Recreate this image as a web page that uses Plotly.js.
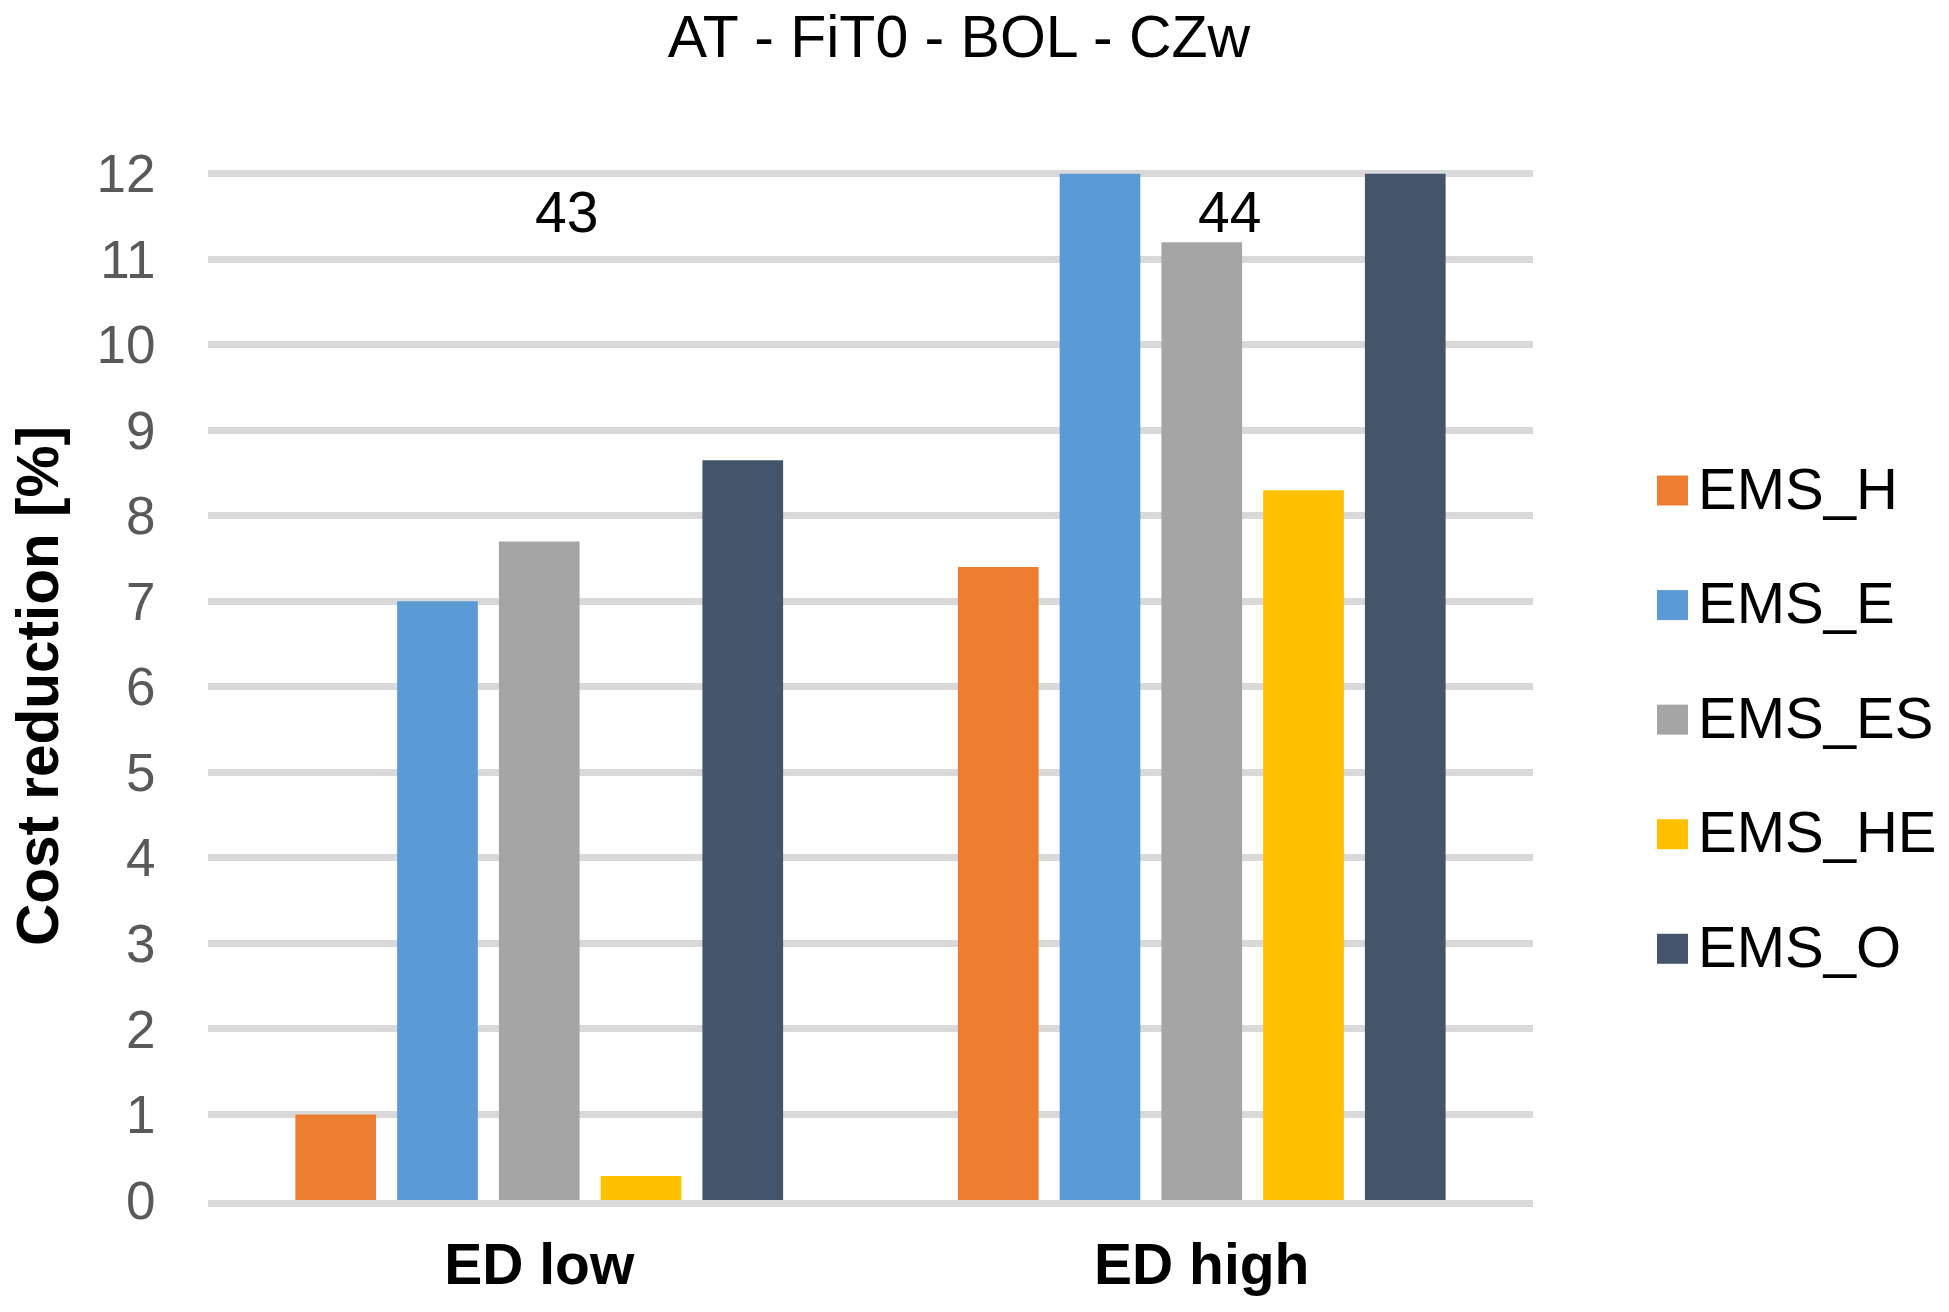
<!DOCTYPE html>
<html><head><meta charset="utf-8">
<script src="https://cdn.plot.ly/plotly-3.0.1.min.js"></script>
<style>html,body{margin:0;padding:0;background:#fff}</style>
</head><body>
<div id="chart" style="width:1949px;height:1312px"></div>
<script>
// ---- data ----
const categories = ['ED low', 'ED high'];
const seriesNames = ['EMS_H', 'EMS_E', 'EMS_ES', 'EMS_HE', 'EMS_O'];
const seriesColors = ['#ED7D31', '#5B9BD5', '#A5A5A5', '#FFC000', '#44546A'];
const emsH  = [1.0, 7.4];
const emsE  = [7.0, 12.0];
const emsES = [7.7, 11.2];
const emsHE = [0.28, 8.3];
const emsO  = [8.65, 12.0];
const caseLabels = ['43', '44'];
const caseLabelY = [11.55, 11.55];
const yTickValues = [0, 1, 2, 3, 4, 5, 6, 7, 8, 9, 10, 11, 12];
const chartTitle = 'AT - FiT0 - BOL - CZw';
const yTitle = 'Cost reduction [%]';

// ---- layout geometry (pixels) ----
const W = 1949, H = 1312;
const L = 208, R = 1533, T = 171.7, B = 1200;
const px = x => (x - L) / (R - L);
const py = y => (B - y) / (B - T);
const FONT = '"Liberation Sans", Arial, sans-serif';
const FS = 57;

const seriesValues = [emsH, emsE, emsES, emsHE, emsO];
const traces = seriesNames.map((name, i) => ({
  type: 'bar',
  name: name,
  x: categories,
  y: seriesValues[i],
  marker: { color: seriesColors[i], line: { width: 0 } },
  showlegend: false,
  hoverinfo: 'x+y+name'
}));

// custom legend (large square swatches like the original)
const shapes = [];
const annotations = [];
const legendTop = 490.3, legendStep = 114.6;
seriesNames.forEach((name, i) => {
  const cy = legendTop + i * legendStep;
  shapes.push({
    type: 'rect', xref: 'paper', yref: 'paper',
    x0: px(1657), x1: px(1688), y0: py(cy + 15), y1: py(cy - 15),
    fillcolor: seriesColors[i], line: { width: 0 }
  });
  annotations.push({
    xref: 'paper', yref: 'paper', x: px(1696), y: py(cy - 2.5),
    xanchor: 'left', yanchor: 'middle', showarrow: false,
    text: name, font: { family: FONT, size: 58, color: '#000' }
  });
});
categories.forEach((c, i) => {
  annotations.push({
    xref: 'x', yref: 'y', x: c, y: caseLabelY[i], xshift: 27.5,
    xanchor: 'center', yanchor: 'middle', showarrow: false,
    text: caseLabels[i], font: { family: FONT, size: FS, color: '#000' }
  });
});

const layout = {
  width: W, height: H,
  paper_bgcolor: '#fff', plot_bgcolor: '#fff',
  margin: { l: L, r: W - R, t: T, b: H - B, pad: 0, autoexpand: false },
  font: { family: FONT, size: FS, color: '#000' },
  title: {
    text: chartTitle, xref: 'container', yref: 'container',
    x: 959 / W, xanchor: 'center', y: 1 - 36 / H, yanchor: 'middle',
    font: { family: FONT, size: 59, color: '#000' }
  },
  barmode: 'group', bargap: 0.232, bargroupgap: 0.207,
  xaxis: {
    type: 'category', showgrid: false, zeroline: false,
    showline: true, linecolor: '#D9D9D9', linewidth: 7,
    ticks: 'outside', ticklen: 9, tickcolor: 'rgba(0,0,0,0)',
    tickfont: { family: FONT, size: FS, color: '#000', weight: 'bold' }
  },
  yaxis: {
    range: [0, 12.02], tickmode: 'array', tickvals: yTickValues,
    showgrid: true, gridcolor: '#D9D9D9', gridwidth: 7, zeroline: false,
    showline: false,
    ticks: 'outside', ticklen: 41, tickcolor: 'rgba(0,0,0,0)',
    tickfont: { family: FONT, size: 53, color: '#595959' },
    title: { text: yTitle, standoff: 18, font: { family: FONT, size: 58.5, color: '#000', weight: 'bold' } }
  },
  shapes: shapes,
  annotations: annotations
};

Plotly.newPlot('chart', traces, layout, { staticPlot: true, displayModeBar: false });
</script>
</body></html>
